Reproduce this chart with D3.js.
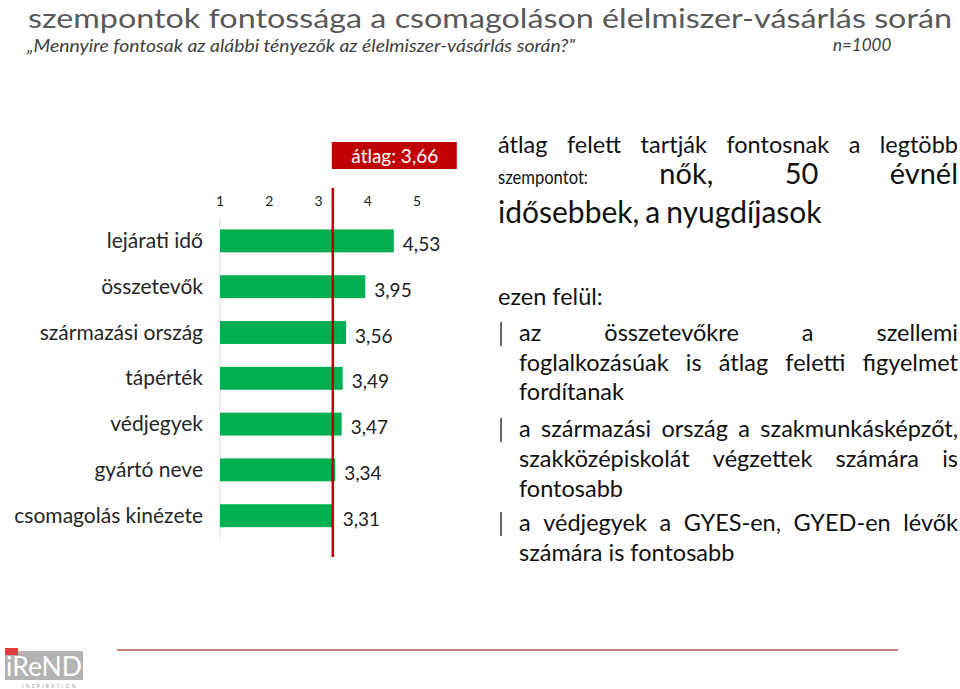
<!DOCTYPE html>
<html>
<head>
<meta charset="utf-8">
<script src="https://d3js.org/d3.v7.min.js"></script>
<style>
  body { margin: 0; background: #fff; }
  svg text { font-family: Lato, "Open Sans", sans-serif; }
</style>
</head>
<body>
<div id="chart"></div>
<script>

// chart data
const categories = ["lejárati idő", "összetevők", "származási ország", "tápérték", "védjegyek", "gyártó neve", "csomagolás kinézete"];
const values = [4.53, 3.95, 3.56, 3.49, 3.47, 3.34, 3.31];
const tickValues = [1, 2, 3, 4, 5];
const avgLabel = 3.66;
const avgLinePos = 3.29;   // where the red line is actually drawn in the picture

const fmt = v => d3.format(".2f")(v).replace(".", ",");

// svg set up
const width = 960, height = 689;
const svg = d3.select("#chart")
  .append("svg")
    .attr("width", width)
    .attr("height", height);

// title + subtitle
svg.append("text")
  .attr("x", 28).attr("y", 27.5)
  .attr("font-size", 27.5)
  .attr("fill", "#595959")
  .attr("textLength", 924)
  .attr("lengthAdjust", "spacingAndGlyphs")
  .text("szempontok fontossága a csomagoláson élelmiszer-vásárlás során");

svg.append("text")
  .attr("x", 27).attr("y", 52)
  .attr("font-size", 18)
  .attr("font-style", "italic")
  .attr("fill", "#404040")
  .attr("textLength", 548)
  .attr("lengthAdjust", "spacingAndGlyphs")
  .text("„Mennyire fontosak az alábbi tényezők az élelmiszer-vásárlás során?”");

svg.append("text")
  .attr("x", 833).attr("y", 51)
  .attr("font-size", 17)
  .attr("font-style", "italic")
  .attr("fill", "#404040")
  .text("n=1000");

// scales
const x = d3.scaleLinear()
  .domain([1, 5])
  .range([220, 417]);

const y = d3.scaleBand()
  .domain(categories)
  .range([218, 538.6])
  .paddingInner(0.5)
  .paddingOuter(0.25);

// light axis line at 1
svg.append("line")
  .attr("x1", x(1)).attr("x2", x(1))
  .attr("y1", 217).attr("y2", 539)
  .attr("stroke", "#d9d9d9")
  .attr("stroke-width", 1);

// tick labels on top
svg.append("g")
  .selectAll("text")
  .data(tickValues)
  .join("text")
    .attr("x", d => x(d))
    .attr("y", 206)
    .attr("text-anchor", "middle")
    .attr("font-size", 14)
    .attr("fill", "#222")
    .text(d => d);

// bars
svg.append("g")
  .selectAll("rect")
  .data(categories)
  .join("rect")
    .attr("x", x(1))
    .attr("y", d => y(d))
    .attr("width", (d, i) => x(values[i]) - x(1))
    .attr("height", y.bandwidth())
    .attr("fill", "#00b050");

// category labels
svg.append("g")
  .selectAll("text")
  .data(categories)
  .join("text")
    .attr("x", 203)
    .attr("y", d => y(d) + y.bandwidth() / 2 + 7)
    .attr("text-anchor", "end")
    .attr("font-size", 21)
    .attr("fill", "#262626")
    .text(d => d);

// value labels
svg.append("g")
  .selectAll("text")
  .data(categories)
  .join("text")
    .attr("x", (d, i) => x(values[i]) + 9)
    .attr("y", d => y(d) + y.bandwidth() / 2 + 10)
    .attr("font-size", 19)
    .attr("fill", "#222")
    .text((d, i) => fmt(values[i]));

// average line + box
svg.append("line")
  .attr("x1", x(avgLinePos)).attr("x2", x(avgLinePos))
  .attr("y1", 188).attr("y2", 557)
  .attr("stroke", "#c00000")
  .attr("stroke-width", 2.5);

svg.append("rect")
  .attr("x", x(avgLinePos) - 1).attr("y", 142)
  .attr("width", 125).attr("height", 27)
  .attr("fill", "#c00000");

svg.append("text")
  .attr("x", x(avgLinePos) + 62).attr("y", 163)
  .attr("text-anchor", "middle")
  .attr("font-size", 19)
  .attr("fill", "#fff")
  .text("átlag: " + fmt(avgLabel));

// right side text block (justified lines); word = [text, font size, optional width]
const fs = 23.5;
const rightLines = [
  {y: 153, x0: 498, words: [["átlag", fs], ["felett", fs], ["tartják", fs], ["fontosnak", fs], ["a", fs], ["legtöbb", fs]], justify: true},
  {y: 184, x0: 498, words: [["szempontot:", 20, 90], ["nők,", 29], ["50", 29], ["évnél", 29]], justify: true},
  {y: 223, x0: 498, words: [["idősebbek,", 30], ["a", 30], ["nyugdíjasok", 30]], justify: false},
  {y: 305, x0: 498, words: [["ezen", fs], ["felül:", fs]], justify: false},
  {y: 341, x0: 519, words: [["az", fs], ["összetevőkre", fs], ["a", fs], ["szellemi", fs]], justify: true, bar: true},
  {y: 371, x0: 519, words: [["foglalkozásúak", fs], ["is", fs], ["átlag", fs], ["feletti", fs], ["figyelmet", fs]], justify: true},
  {y: 400, x0: 519, words: [["fordítanak", fs]], justify: false},
  {y: 437, x0: 519, words: [["a", fs], ["származási", fs], ["ország", fs], ["a", fs], ["szakmunkásképzőt,", fs]], justify: true, bar: true},
  {y: 467, x0: 519, words: [["szakközépiskolát", fs], ["végzettek", fs], ["számára", fs], ["is", fs]], justify: true},
  {y: 497, x0: 519, words: [["fontosabb", fs]], justify: false},
  {y: 531, x0: 519, words: [["a", fs], ["védjegyek", fs], ["a", fs], ["GYES-en,", fs], ["GYED-en", fs], ["lévők", fs]], justify: true, bar: true},
  {y: 561, x0: 519, words: [["számára", fs], ["is", fs], ["fontosabb", fs]], justify: false}
];
const rightEdge = 958;

const block = svg.append("g");
rightLines.forEach(line => {
  const g = block.append("g");
  const nodes = line.words.map(w => {
    const t = g.append("text")
      .attr("y", line.y)
      .attr("font-size", w[1])
      .attr("fill", "#111")
      .text(w[0]);
    if (w[2]) t.attr("textLength", w[2]).attr("lengthAdjust", "spacingAndGlyphs");
    return t;
  });
  const widths = nodes.map((n, i) => line.words[i][2] || n.node().getComputedTextLength());
  const total = d3.sum(widths);
  const gap = line.justify && nodes.length > 1
    ? (rightEdge - line.x0 - total) / (nodes.length - 1)
    : 6;
  let cx = line.x0;
  nodes.forEach((n, i) => { n.attr("x", cx); cx += widths[i] + gap; });
  if (line.bar) {
    block.append("line")
      .attr("x1", 501).attr("x2", 501)
      .attr("y1", line.y - 19).attr("y2", line.y + 5)
      .attr("stroke", "#111").attr("stroke-width", 1.3);
  }
});

// footer line
svg.append("line")
  .attr("x1", 117).attr("x2", 898)
  .attr("y1", 650).attr("y2", 650)
  .attr("stroke", "#c0504d")
  .attr("stroke-width", 1.5);

// logo
const logo = svg.append("g");
logo.append("rect").attr("x", 5).attr("y", 651).attr("width", 78).attr("height", 29).attr("fill", "#b3b3b3");
logo.append("rect").attr("x", 5).attr("y", 648).attr("width", 13).attr("height", 7).attr("fill", "#e03c3c");
logo.append("text")
  .attr("x", 6).attr("y", 676)
  .attr("font-size", 26)
  .attr("fill", "#fff")
  .attr("textLength", 76)
  .attr("lengthAdjust", "spacingAndGlyphs")
  .text("iReND");
logo.append("text")
  .attr("x", 22).attr("y", 688)
  .attr("font-size", 5)
  .attr("fill", "#999")
  .attr("letter-spacing", 2.3)
  .text("INSPIRATION");

</script>
</body>
</html>
